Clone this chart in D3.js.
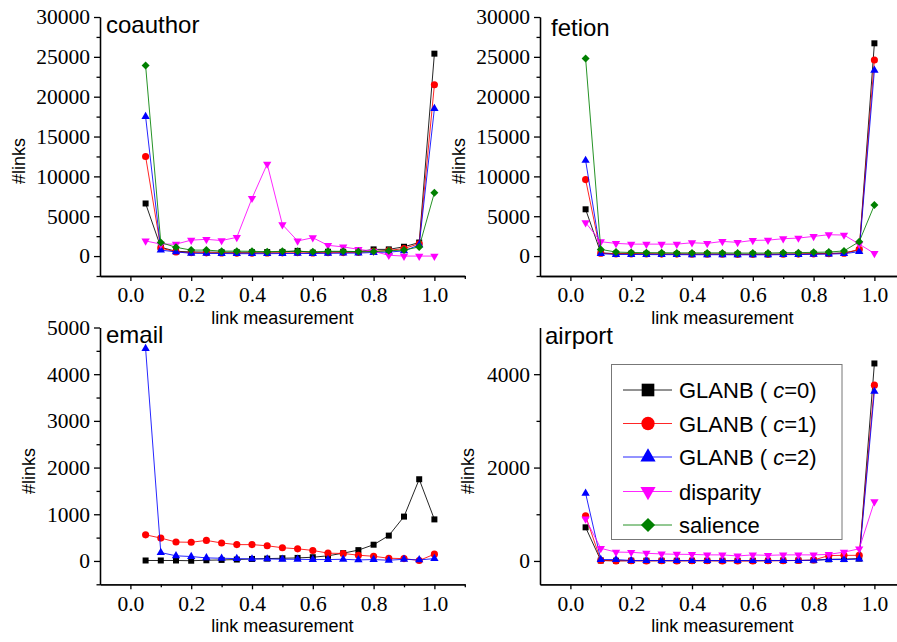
<!DOCTYPE html>
<html>
<head>
<meta charset="utf-8">
<script src="https://cdn.jsdelivr.net/npm/d3@7"></script>
<style>
  html, body { margin: 0; padding: 0; background: #fff; }
  svg { display: block; }
</style>
</head>
<body>
<svg id="chart" width="897" height="642"></svg>
<script>
// Link-measurement bins (x positions shared by every series)
const measure = [0.05, 0.10, 0.15, 0.20, 0.25, 0.30, 0.35, 0.40, 0.45, 0.50,
                 0.55, 0.60, 0.65, 0.70, 0.75, 0.80, 0.85, 0.90, 0.95, 1.00];

// coauthor
const coauthorC0 = [6600, 1100, 600, 520, 500, 480, 480, 480, 500, 520, 650, 430, 540, 540, 560, 840, 840, 1170, 1700, 25400];
const coauthorC1 = [12500, 1000, 520, 420, 400, 380, 370, 360, 380, 400, 420, 380, 420, 440, 460, 600, 700, 950, 1550, 21500];
const coauthorC2 = [17500, 750, 520, 350, 330, 320, 300, 300, 300, 320, 330, 320, 350, 360, 380, 450, 500, 650, 1400, 18500];
const coauthorDisparity = [1900, 1500, 1500, 2000, 2100, 1950, 2350, 7250, 11550, 3950, 1900, 2300, 1350, 1150, 850, 600, 100, 0, 0, 0];
const coauthorSalience = [23900, 1700, 1100, 750, 750, 620, 620, 600, 540, 600, 600, 540, 600, 600, 560, 560, 670, 750, 1150, 7950];

// fetion
const fetionC0 = [5870, 400, 300, 300, 280, 260, 260, 250, 250, 250, 230, 230, 230, 250, 260, 300, 330, 400, 750, 26700];
const fetionC1 = [9600, 350, 280, 280, 260, 250, 250, 240, 240, 240, 220, 220, 220, 240, 250, 280, 300, 350, 850, 24600];
const fetionC2 = [12000, 300, 200, 200, 190, 180, 180, 170, 170, 170, 160, 160, 160, 180, 190, 220, 250, 300, 550, 23300];
const fetionDisparity = [4200, 1800, 1590, 1500, 1500, 1500, 1500, 1670, 1590, 1840, 1720, 1970, 2000, 2180, 2260, 2470, 2680, 2640, 1500, 330];
const fetionSalience = [24800, 840, 500, 450, 430, 420, 400, 400, 400, 400, 380, 380, 380, 420, 430, 470, 500, 650, 1800, 6400];

// email
const emailC0 = [10, 10, 10, 5, 15, 22, 30, 43, 50, 58, 65, 80, 110, 167, 232, 348, 543, 950, 1750, 890];
const emailC1 = [560, 490, 405, 400, 440, 385, 350, 350, 325, 283, 260, 225, 167, 160, 123, 100, 58, 50, 10, 145];
const emailC2 = [4550, 180, 110, 95, 65, 58, 50, 43, 43, 36, 36, 30, 30, 36, 22, 30, 15, 36, 22, 50];

// airport
const airportC0 = [720, 10, 5, 5, 5, 5, 5, 5, 5, 5, 5, 5, 5, 10, 10, 15, 35, 40, 50, 4230];
const airportC1 = [965, 10, 0, 5, 0, 5, 0, 5, 5, 0, 0, 0, 5, 5, 10, 20, 115, 120, 120, 3765];
const airportC2 = [1450, 30, 30, 10, 10, 10, 10, 10, 10, 10, 10, 10, 10, 10, 10, 15, 30, 30, 40, 3630];
const airportDisparity = [900, 270, 190, 185, 165, 150, 143, 140, 130, 130, 107, 130, 120, 130, 130, 130, 140, 190, 260, 1270];

// Series styling and legend labels
const seriesNames = ["c0", "c1", "c2", "disparity", "salience"];
const seriesColors = { c0: "#000000", c1: "#ff0000", c2: "#0000ff", disparity: "#ff00ff", salience: "#008000" };
const legendLabels = [
  { key: "c0", pre: "GLANB ( ", it: "c", post: "=0)" },
  { key: "c1", pre: "GLANB ( ", it: "c", post: "=1)" },
  { key: "c2", pre: "GLANB ( ", it: "c", post: "=2)" },
  { key: "disparity", pre: "disparity", it: "", post: "" },
  { key: "salience", pre: "salience", it: "", post: "" }
];

// Axis ticks
const xMajor = [0, 0.2, 0.4, 0.6, 0.8, 1.0];
const xMinor = [0.1, 0.3, 0.5, 0.7, 0.9, 1.1];

const panels = [
  { title: "coauthor", left: 100, top: 17, bottom: 276, yDomain: [-2500, 30000],
    yMajor: [0, 5000, 10000, 15000, 20000, 25000, 30000],
    yMinor: [-2500, 2500, 7500, 12500, 17500, 22500, 27500],
    titlePos: [106, 33], ylabX: 25, ylabY: 161,
    series: { c0: coauthorC0, c1: coauthorC1, c2: coauthorC2, disparity: coauthorDisparity, salience: coauthorSalience } },
  { title: "fetion", left: 540, top: 17, bottom: 276, yDomain: [-2500, 30000],
    yMajor: [0, 5000, 10000, 15000, 20000, 25000, 30000],
    yMinor: [-2500, 2500, 7500, 12500, 17500, 22500, 27500],
    titlePos: [551, 36], ylabX: 465, ylabY: 161,
    series: { c0: fetionC0, c1: fetionC1, c2: fetionC2, disparity: fetionDisparity, salience: fetionSalience } },
  { title: "email", left: 100, top: 327.5, bottom: 584.3, yDomain: [-500, 5000],
    yMajor: [0, 1000, 2000, 3000, 4000, 5000],
    yMinor: [-500, 500, 1500, 2500, 3500, 4500],
    titlePos: [106, 343], ylabX: 35, ylabY: 471,
    series: { c0: emailC0, c1: emailC1, c2: emailC2 } },
  { title: "airport", left: 540, top: 327.5, bottom: 584.3, yDomain: [-500, 5000],
    yMajor: [0, 2000, 4000],
    yMinor: [1000, 3000],
    titlePos: [545, 344], ylabX: 474, ylabY: 471,
    series: { c0: airportC0, c1: airportC1, c2: airportC2, disparity: airportDisparity },
    legend: true }
];

const SERIF = "'Liberation Serif', 'Times New Roman', serif";
const SANS = "'Liberation Sans', Arial, sans-serif";

const svg = d3.select("#chart");
svg.append("rect").attr("width", 897).attr("height", 642).attr("fill", "#fff");

// Marker shape for each series
function markerPath(key, big) {
  switch (key) {
    case "c0": return d3.symbol(d3.symbolSquare, big ? 160 : 36)();
    case "c1": return d3.symbol(d3.symbolCircle, big ? 140 : 40)();
    case "c2": return d3.symbol(d3.symbolTriangle, big ? 100 : 30)();
    case "disparity": return d3.symbol(d3.symbolTriangle, big ? 100 : 30)();
    case "salience": return d3.symbol(d3.symbolSquare, big ? 100 : 32)();
  }
}
function markerRotate(key) {
  if (key === "disparity") return " rotate(180)";
  if (key === "salience") return " rotate(45)";
  return "";
}

panels.forEach(p => {
  const x = d3.scaleLinear().domain([-0.1, 1.1]).range([p.left, p.left + 364.8]);
  const y = d3.scaleLinear().domain(p.yDomain).range([p.bottom, p.top]);
  const g = svg.append("g");

  // y axis: major ticks with labels, minor ticks without
  g.append("g").attr("class", "ax").attr("transform", `translate(${p.left},0)`)
    .call(d3.axisLeft(y).tickValues(p.yMajor).tickFormat(d3.format("d")).tickSize(6).tickSizeOuter(0).tickPadding(4));
  g.append("g").attr("class", "ax").attr("transform", `translate(${p.left},0)`)
    .call(d3.axisLeft(y).tickValues(p.yMinor).tickFormat("").tickSize(3.5).tickSizeOuter(0));

  // x axis
  g.append("g").attr("class", "ax").attr("transform", `translate(0,${p.bottom})`)
    .call(d3.axisBottom(x).tickValues(xMajor).tickFormat(d3.format(".1f")).tickSize(5).tickSizeOuter(0).tickPadding(6));
  g.append("g").attr("class", "ax").attr("transform", `translate(0,${p.bottom})`)
    .call(d3.axisBottom(x).tickValues(xMinor).tickFormat("").tickSize(3).tickSizeOuter(0));

  g.selectAll(".ax").attr("font-family", null).attr("font-size", null);
  g.selectAll(".domain, .tick line").attr("stroke", "#000").attr("stroke-width", 1.3);
  g.selectAll(".tick text")
    .style("font-family", SERIF).style("font-size", "21.5px").attr("fill", "#000");

  // axis titles
  g.append("text").attr("x", x(0.5)).attr("y", p.bottom + 48)
    .attr("text-anchor", "middle").style("font-family", SANS)
    .style("font-size", "18px").text("link measurement");
  g.append("text").attr("transform", `translate(${p.ylabX},${p.ylabY}) rotate(-90)`)
    .attr("text-anchor", "middle").style("font-family", SANS)
    .style("font-size", "18px").text("#links");

  // panel title
  g.append("text").attr("x", p.titlePos[0]).attr("y", p.titlePos[1])
    .style("font-family", SANS).style("font-size", "24px")
    .text(p.title);

  // series lines and markers
  const line = d3.line().x((d, i) => x(measure[i])).y(d => y(d));
  seriesNames.forEach(key => {
    const vals = p.series[key];
    if (!vals) return;
    const col = seriesColors[key];
    g.append("path").datum(vals).attr("d", line)
      .attr("fill", "none").attr("stroke", col).attr("stroke-width", 1).attr("stroke-opacity", 0.85);
    g.append("g").selectAll("path").data(vals).join("path")
      .attr("d", markerPath(key, false))
      .attr("transform", (d, i) => `translate(${x(measure[i])},${y(d)})${markerRotate(key)}`)
      .attr("fill", col);
  });

  // legend
  if (p.legend) {
    const lg = svg.append("g");
    lg.append("rect").attr("x", 611.5).attr("y", 364.5).attr("width", 230.5).attr("height", 175)
      .attr("fill", "#fff").attr("stroke", "#777").attr("stroke-width", 1);
    const rowY = [390, 423.5, 457, 491.5, 525];
    legendLabels.forEach((l, i) => {
      const col = seriesColors[l.key];
      const ry = rowY[i];
      lg.append("line").attr("x1", 623).attr("x2", 672).attr("y1", ry).attr("y2", ry)
        .attr("stroke", col).attr("stroke-width", 1).attr("stroke-opacity", 0.85);
      lg.append("path").attr("d", markerPath(l.key, true))
        .attr("transform", `translate(648,${ry})${markerRotate(l.key)}`).attr("fill", col);
      const t = lg.append("text").attr("x", 679).attr("y", ry + 8)
        .style("font-family", SANS).style("font-size", "22px").style("white-space", "pre");
      t.append("tspan").text(l.pre);
      if (l.it) {
        t.append("tspan").style("font-style", "italic").text(l.it);
        t.append("tspan").text(l.post);
      }
    });
  }
});
</script>
</body>
</html>
